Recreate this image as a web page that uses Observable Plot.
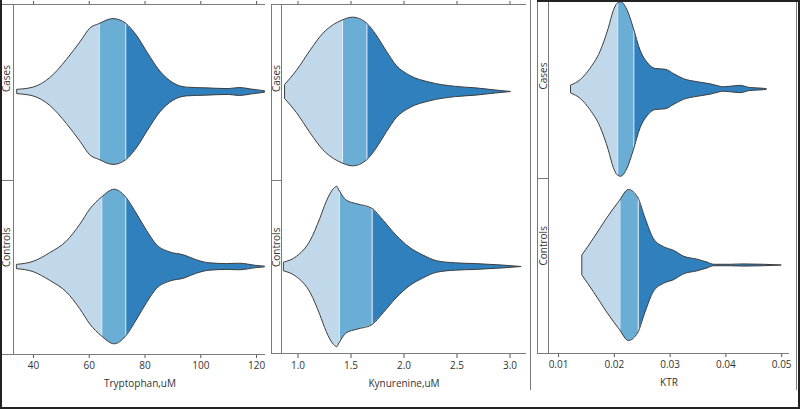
<!DOCTYPE html>
<html><head><meta charset="utf-8">
<script src="https://cdn.jsdelivr.net/npm/d3@7"></script>
<script src="https://cdn.jsdelivr.net/npm/@observablehq/plot@0.6"></script>
<style>
body{margin:0;background:#fff;}
#wrap{position:relative;width:800px;height:409px;overflow:hidden;font-family:"Open Sans",sans-serif;}
.p{position:absolute;top:0;}
.ln{position:absolute;background:#7a7a7a;}
</style></head><body><div id="wrap"></div>
<script>
const groups = ["Cases", "Controls"];
const segColors = ["#c0d8e9", "#6aaed6", "#2f80bd"];

// Tryptophan, uM
const trpTicks = [40, 60, 80, 100, 120];
const trpCasesX = [34.3, 40, 46, 52, 57, 60.4, 63.6, 68.7, 73.1, 77.3, 80.9, 85.5, 90.2, 95, 102, 110, 114, 118, 123];
const trpCasesD = [0.03, 0.06, 0.19, 0.44, 0.69, 0.87, 0.93, 1.00, 0.94, 0.76, 0.54, 0.28, 0.12, 0.06, 0.05, 0.04, 0.055, 0.035, 0.01];
const trpCasesSplit = [63.6, 73.1];
const trpControlsX = [34.2, 40, 46, 52, 56.8, 60.4, 64.5, 69.1, 73.1, 77.2, 80.8, 84.3, 89, 94, 98.7, 103.4, 109.4, 114, 120, 123];
const trpControlsD = [0.03, 0.07, 0.19, 0.35, 0.58, 0.79, 0.95, 1.06, 0.96, 0.72, 0.49, 0.30, 0.20, 0.16, 0.09, 0.05, 0.04, 0.045, 0.015, 0.005];
const trpControlsSplit = [64.5, 73.1];

// Kynurenine, uM
const kynTicks = [1.0, 1.5, 2.0, 2.5, 3.0];
const kynCasesX = [0.88, 0.99, 1.12, 1.24, 1.34, 1.42, 1.52, 1.65, 1.74, 1.84, 1.93, 2.06, 2.24, 2.49, 2.68, 2.87, 3.01];
const kynCasesD = [0.10, 0.29, 0.57, 0.80, 0.92, 0.98, 1.02, 0.94, 0.78, 0.55, 0.36, 0.22, 0.13, 0.07, 0.05, 0.02, 0.0];
const kynCasesSplit = [1.42, 1.65];
const kynControlsX = [0.87, 0.99, 1.12, 1.21, 1.27, 1.34, 1.37, 1.39, 1.46, 1.56, 1.70, 1.81, 1.93, 2.06, 2.18, 2.31, 2.49, 2.68, 2.93, 3.11];
const kynControlsD = [0.06, 0.14, 0.36, 0.66, 0.89, 1.07, 1.10, 1.05, 0.91, 0.86, 0.80, 0.63, 0.43, 0.26, 0.16, 0.08, 0.05, 0.04, 0.02, 0.0];
const kynControlsSplit = [1.39, 1.70];

// KTR
const ktrTicks = [0.01, 0.02, 0.03, 0.04, 0.05];
const ktrCasesX = [0.0123, 0.0140, 0.0157, 0.0175, 0.0190, 0.0199, 0.0206, 0.0212, 0.0223, 0.0235, 0.0247, 0.0259, 0.0274, 0.0292, 0.0307, 0.0325, 0.0349, 0.0373, 0.0397, 0.0426, 0.0444, 0.0468, 0.0474];
const ktrCasesD = [0.055, 0.13, 0.28, 0.51, 0.83, 1.07, 1.17, 1.19, 1.09, 0.83, 0.53, 0.37, 0.28, 0.27, 0.21, 0.14, 0.10, 0.07, 0.03, 0.05, 0.02, 0.01, 0.0];
const ktrCasesSplit = [0.0206, 0.0235];
const ktrControlsX = [0.0143, 0.0163, 0.0187, 0.0210, 0.0226, 0.0243, 0.0256, 0.0271, 0.0289, 0.0307, 0.0325, 0.0349, 0.0367, 0.0379, 0.0409, 0.0432, 0.0468, 0.0500];
const ktrControlsD = [0.14, 0.36, 0.64, 0.88, 1.03, 0.92, 0.64, 0.36, 0.25, 0.20, 0.12, 0.08, 0.04, 0.01, 0.01, 0.015, 0.01, 0.0];
const ktrControlsSplit = [0.0210, 0.0243];

const wrap = document.getElementById("wrap");

function panel(cfg) {
  const segRows = [], outlineRows = [], splitRows = [];
  cfg.series.forEach(([xs, ds, splits], gi) => {
    const g = groups[gi];
    xs.forEach((x, i) => outlineRows.push({g, x, d: ds[i]}));
    const b = [-Infinity, splits[0], splits[1], Infinity];
    for (let s = 0; s < 3; s++) xs.forEach((x, i) => { if (x >= b[s] && x <= b[s + 1]) segRows.push({g, s, x, d: ds[i]}); });
    splits.forEach(sp => { const i = xs.indexOf(sp); splitRows.push({g, x: sp, d: ds[i]}); });
  });
  const marks = [
    Plot.areaY(segRows, {x: "x", y1: r => -r.d, y2: "d", fy: "g", z: "s", fill: r => segColors[r.s], curve: "monotone-x"}),
    Plot.ruleX(splitRows, {x: "x", y1: r => -r.d, y2: "d", fy: "g", stroke: "#e6eff7", strokeWidth: 1}),
    Plot.areaY(outlineRows, {x: "x", y1: r => -r.d, y2: "d", fy: "g", z: "g", fill: "none", stroke: "#3d3d3d", strokeWidth: 1, curve: "monotone-x"}),
    Plot.text(groups, {fy: d => d, text: d => d, frameAnchor: "left", dx: cfg.labelDx, rotate: -90, fill: "#333", fontSize: 10}),
    Plot.axisX({anchor: "bottom", ticks: cfg.ticks, tickFormat: cfg.fmt, tickSize: 4, tickPadding: 3, stroke: "#555", fill: "#333", fontSize: 10,
      label: cfg.label, labelAnchor: "center", labelOffset: 32, labelArrow: "none"})
  ];
  if (cfg.topTicks) marks.push(Plot.axisX({anchor: "top", ticks: cfg.ticks, tickFormat: () => "", tickSize: 4, stroke: "#555", label: null}));
  const svg = Plot.plot({
    width: cfg.width, height: 409,
    marginLeft: cfg.marginLeft, marginRight: 0, marginTop: cfg.marginTop, marginBottom: cfg.marginBottom,
    x: {domain: cfg.domain},
    y: {domain: [-1.2, 1.2], axis: null},
    fy: {domain: groups, padding: 0, axis: null},
    style: {fontFamily: "'Open Sans', sans-serif", fontSize: "10px", background: "transparent", overflow: "visible", color: "#333"},
    marks
  });
  svg.classList.add("p");
  svg.style.left = cfg.left + "px";
  wrap.appendChild(svg);
}

panel({left: 0, width: 265, marginLeft: 14, marginTop: 4, marginBottom: 55, domain: [33.2, 123.2],
  ticks: trpTicks, fmt: d3.format("d"), label: "Tryptophan,uM", labelDx: -8, topTicks: true,
  series: [[trpCasesX, trpCasesD, trpCasesSplit], [trpControlsX, trpControlsD, trpControlsSplit]]});
panel({left: 271, width: 255, marginLeft: 10, marginTop: 4, marginBottom: 55, domain: [0.844, 3.156],
  ticks: kynTicks, fmt: d3.format(".1f"), label: "Kynurenine,uM", labelDx: -5, topTicks: true,
  series: [[kynCasesX, kynCasesD, kynCasesSplit], [kynControlsX, kynControlsD, kynControlsSplit]]});
panel({left: 537, width: 252, marginLeft: 11, marginTop: 1, marginBottom: 56, domain: [0.0082, 0.0514],
  ticks: ktrTicks, fmt: d3.format(".2f"), label: "KTR", labelDx: -5, topTicks: false,
  series: [[ktrCasesX, ktrCasesD, ktrCasesSplit], [ktrControlsX, ktrControlsD, ktrControlsSplit]]});

// frame and strip lines
function line(x, y, w, h, c) {
  const d = document.createElement("div");
  d.className = "ln";
  Object.assign(d.style, {left: x + "px", top: y + "px", width: w + "px", height: h + "px"});
  if (c) d.style.background = c;
  wrap.appendChild(d);
}
// panel 1
line(2, 4, 263, 1); line(13, 4, 1, 350); line(2, 180, 11, 1); line(2, 354, 263, 1);
// panel 2
line(271, 4, 255, 1); line(271, 4, 1, 350); line(281, 4, 1, 350); line(271, 180, 10, 1); line(271, 353, 255, 1);
// panel 3
line(530, 0, 1, 390); line(537, 0, 1, 353); line(548, 0, 1, 353); line(537, 178, 11, 1); line(537, 353, 252, 1); line(796, 0, 1, 390);
// outer frame
line(0, 0, 2, 409, "#222"); line(0, 407, 800, 2, "#222"); line(798, 0, 2, 409, "#222"); line(537, 0, 263, 2, "#222");
</script></body></html>
